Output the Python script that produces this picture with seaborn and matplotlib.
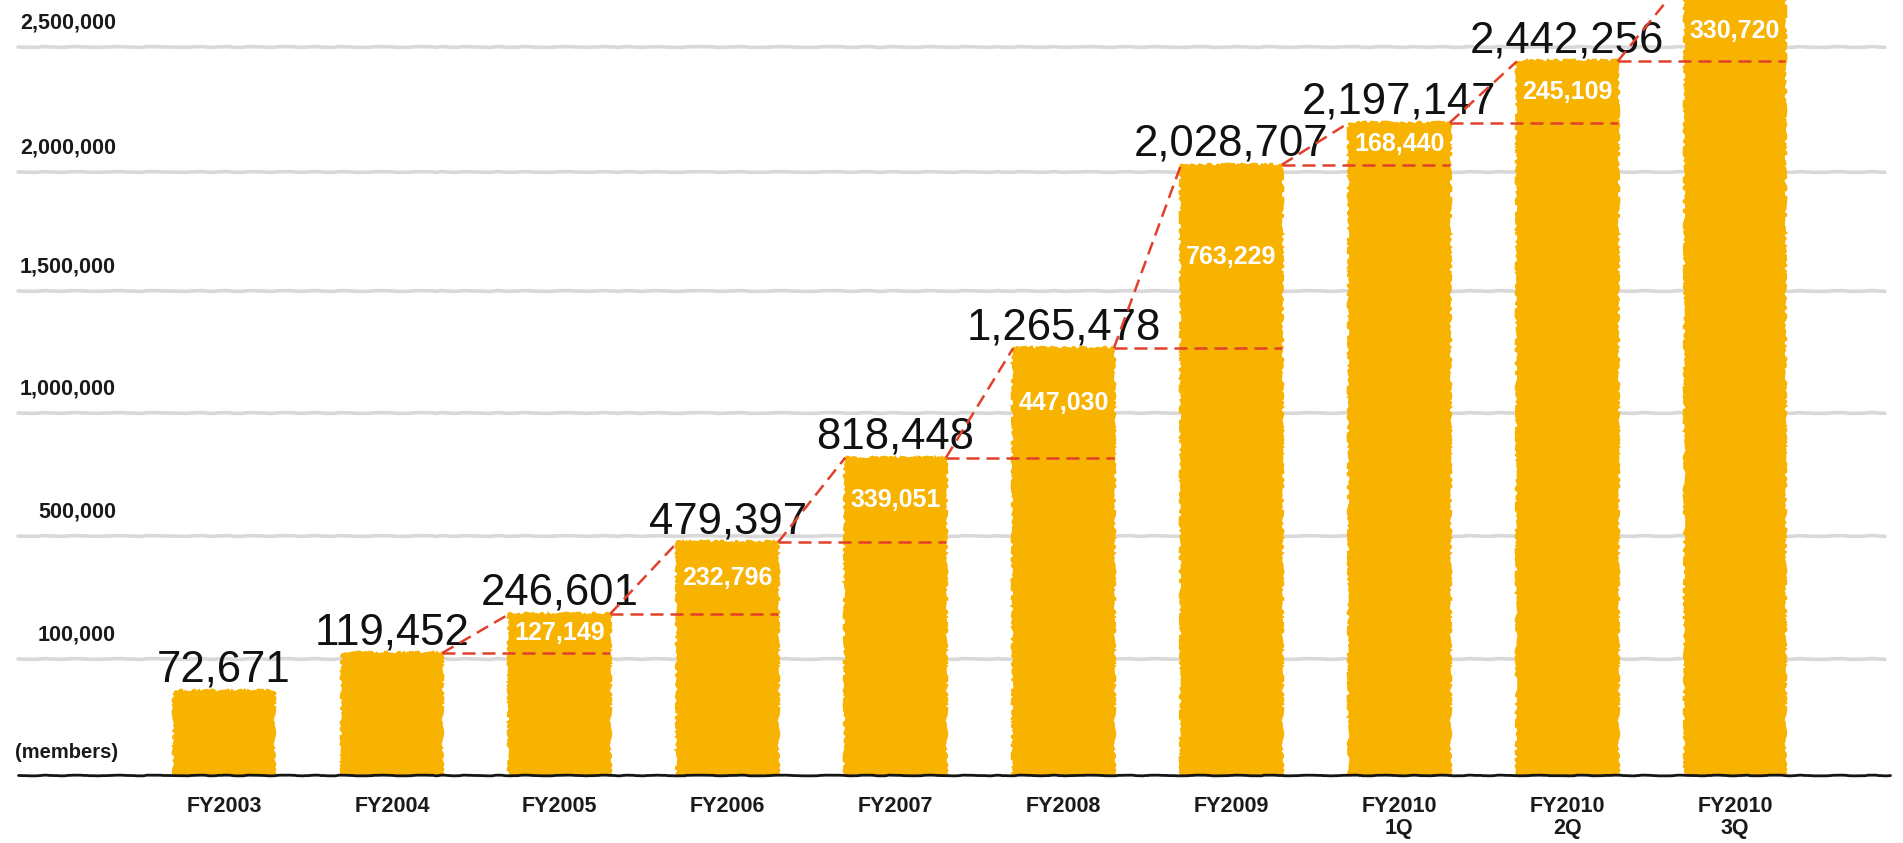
import numpy as np
import matplotlib
matplotlib.use("Agg")
import matplotlib.pyplot as plt
import seaborn as sns
from matplotlib import transforms as mtransforms
from matplotlib import font_manager as fm

# ---- data -------------------------------------------------------------
categories = ["FY2003", "FY2004", "FY2005", "FY2006", "FY2007", "FY2008",
              "FY2009", "FY2010\n1Q", "FY2010\n2Q", "FY2010\n3Q"]
members = [72671, 119452, 246601, 479397, 818448, 1265478,
           2028707, 2197147, 2442256, 2772976]
net_adds = [None, None, 127149, 232796, 339051, 447030,
            763229, 168440, 245109, 330720]
tick_values = [100000, 500000, 1000000, 1500000, 2000000, 2500000]
tick_labels = ["100,000", "500,000", "1,000,000", "1,500,000",
               "2,000,000", "2,500,000"]
unit_label = "(members)"

# ---- styling ----------------------------------------------------------
BAR_COLOR = "#F8B200"
GRID_COLOR = "#d9d9d9"
DASH_COLOR = "#E2402A"
FIG_W, FIG_H, DPI = 1903, 843, 100
BASE_PX = 68            # baseline height above the bottom edge (pixels)
BAR_X0, BAR_STEP = 224, 167.9
BAR_WIDTH = 0.6

# Piecewise-linear value axis: the ticks are evenly spaced rather than
# proportional, so values are mapped through these stops (pixels above base).
AXIS_STOPS = [-1000000, 0, 100000, 500000, 1000000, 1500000, 2000000, 2500000, 3000000]
AXIS_PX = [-250, 0, 116, 239, 362, 484, 603, 728, 853]


def forward(v):
    return np.interp(np.asarray(v, dtype=float), AXIS_STOPS, AXIS_PX)


def inverse(p):
    return np.interp(np.asarray(p, dtype=float), AXIS_PX, AXIS_STOPS)


def pick_family(*names):
    for n in names:
        try:
            fm.findfont(fm.FontProperties(family=n), fallback_to_default=False)
            return n
        except Exception:
            pass
    return "DejaVu Sans"


sns.set_theme(style="white")
FAMILY = pick_family("Liberation Sans", "Arial", "DejaVu Sans")
plt.rcParams["font.family"] = [FAMILY, "DejaVu Sans"]

fig = plt.figure(figsize=(FIG_W / DPI, FIG_H / DPI), dpi=DPI, facecolor="white")
ax = fig.add_axes([0, BASE_PX / FIG_H, 1, (FIG_H - BASE_PX) / FIG_H])
ax.set_facecolor("white")

sns.barplot(x=categories, y=members, color=BAR_COLOR, saturation=1,
            width=BAR_WIDTH, errorbar=None, ax=ax,
            edgecolor=BAR_COLOR, linewidth=1.5, zorder=2)

ax.set_yscale("function", functions=(forward, inverse))
top_value = float(inverse(FIG_H - BASE_PX))
ax.set_ylim(0, top_value)
ax.set_xlim(-BAR_X0 / BAR_STEP, (FIG_W - BAR_X0) / BAR_STEP)

# rough, hand-drawn edges on the bars
for bar in ax.patches:
    bar.set_sketch_params(scale=1.3, length=22, randomness=40)

# horizontal guide lines
for v in tick_values:
    ln = ax.axhline(v, xmin=18 / FIG_W, xmax=1885 / FIG_W, color=GRID_COLOR,
                    lw=2.6, zorder=0.5, solid_capstyle="round")
    ln.set_sketch_params(scale=0.35, length=120, randomness=20)

# baseline
base = ax.axhline(0, xmin=18 / FIG_W, xmax=1890 / FIG_W, color="#151515",
                  lw=2.0, zorder=3, clip_on=False)
base.set_sketch_params(scale=0.35, length=120, randomness=20)

# tick values written just above their guide lines
ylab_trans = mtransforms.offset_copy(
    mtransforms.blended_transform_factory(ax.transAxes, ax.transData),
    fig=fig, x=0, y=24, units="dots")
for v, lab in zip(tick_values, tick_labels):
    ax.text(116 / FIG_W, v, lab, transform=ylab_trans, ha="right", va="center",
            fontsize=15.5, fontweight="bold", color="#1a1a1a")
ax.text(15 / FIG_W, 0, unit_label, transform=mtransforms.offset_copy(
    mtransforms.blended_transform_factory(ax.transAxes, ax.transData),
    fig=fig, x=0, y=23, units="dots"),
    ha="left", va="center", fontsize=14.5, fontweight="bold", color="#1a1a1a")

# dashed step guides: previous total carried across the next bar
half = BAR_WIDTH / 2
for i in range(2, len(members)):
    prev, cur = members[i - 1], members[i]
    kw = dict(color=DASH_COLOR, lw=1.8, ls=(0, (5.2, 2.8)), zorder=4)
    ax.plot([i - 1 + half, i - half], [prev, cur], **kw)
    ax.plot([i - 1 + half, i + half], [prev, prev], **kw)

# totals above the bars
for i, v in enumerate(members):
    if v < top_value:
        ax.annotate(f"{v:,}", xy=(i, v), xytext=(0, 9), textcoords="offset pixels",
                    ha="center", va="baseline", fontsize=31.5, color="#111111")

# net additions inside the new part of each bar
for i, add in enumerate(net_adds):
    if add is None:
        continue
    lo = forward(members[i - 1])
    hi = forward(min(members[i], top_value))
    ymid = float(inverse((lo + hi) / 2))
    ax.text(i, ymid, f"{add:,}", ha="center", va="center", fontsize=18,
            fontweight="bold", color="white", zorder=5)

ax.set_xticks(range(len(categories)))
ax.set_xticklabels(categories, fontsize=15.5, fontweight="bold",
                   linespacing=1.08, color="#1a1a1a")
ax.tick_params(axis="x", length=0, pad=15)
ax.set_yticks([])
ax.set_xlabel("")
ax.set_ylabel("")
for s in ax.spines.values():
    s.set_visible(False)

fig.savefig("out.png", dpi=DPI, facecolor="white")
